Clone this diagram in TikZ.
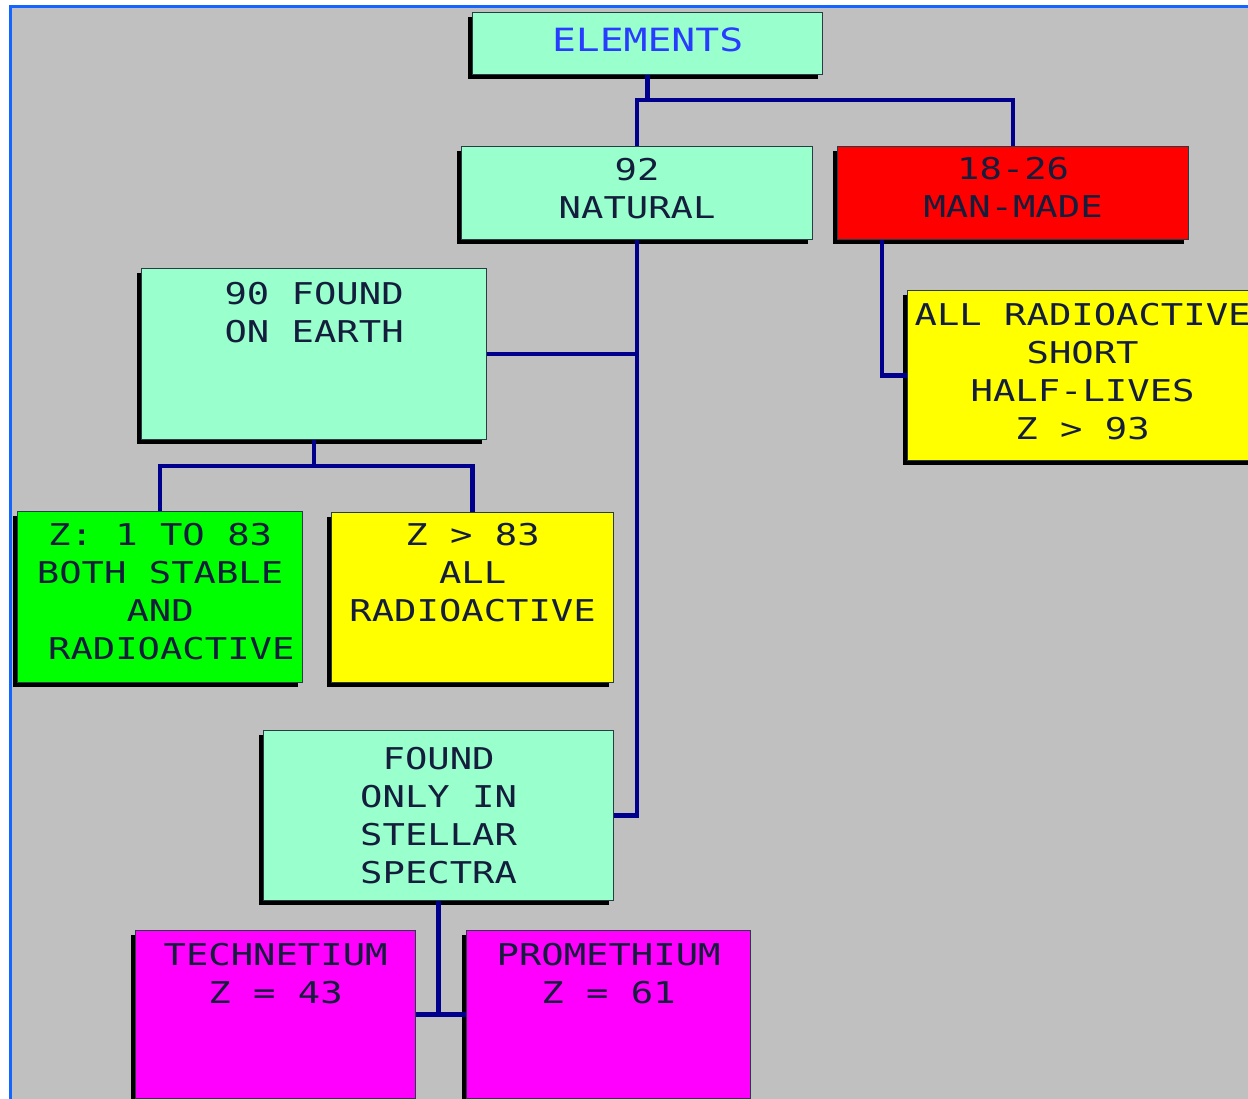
\documentclass[tikz,border=0pt]{standalone}
\usepackage{fontspec}
\usetikzlibrary{shadows}
\newfontfamily\boxfont[FakeStretch=1.24]{DejaVu Sans Mono}
\definecolor{mint}{RGB}{153,255,204}
\definecolor{lime}{RGB}{0,255,0}
\definecolor{lemon}{RGB}{255,255,0}
\definecolor{scarlet}{RGB}{255,0,0}
\definecolor{fuchsia}{RGB}{255,0,255}
\definecolor{panel}{RGB}{192,192,192}
\definecolor{frameblue}{RGB}{20,100,255}
\definecolor{wire}{RGB}{0,0,140}
\definecolor{ink}{RGB}{20,30,60}
\definecolor{titleblue}{RGB}{40,60,255}
\definecolor{edge}{RGB}{40,60,70}

\begin{document}
\begin{tikzpicture}[x=1pt, y=-1pt,
    box/.style={draw=edge, line width=1.2pt, anchor=north west, inner sep=0pt,
      drop shadow={shadow xshift=-5pt, shadow yshift=-4pt, fill=black, opacity=1}},
    boxtext/.style={anchor=north, inner sep=0pt, align=center, text=ink,
      font=\boxfont\fontsize{30}{38}\selectfont},
    link/.style={draw=wire, line width=4.5pt}]
    \useasboundingbox (0,0) rectangle (1248,1099);
    \clip (0,0) rectangle (1248,1099);
    \fill [white] (0,0) rectangle (1248,1099);
    \fill [panel] (10,7) rectangle (1248,1099);
    \draw [frameblue, line width=3pt] (10,1099) -- (10,7) -- (1248,7);

    % boxes
    \node (elem) at (472,12) [box, fill=mint, minimum width=350pt, minimum height=62pt] {};
    \node (natural) at (461,146) [box, fill=mint, minimum width=351pt, minimum height=93pt] {};
    \node (manmade) at (837,146) [box, fill=scarlet, minimum width=351pt, minimum height=93pt] {};
    \node (radio) at (907,290) [box, fill=lemon, minimum width=350pt, minimum height=170pt] {};
    \node (earth) at (141,268) [box, fill=mint, minimum width=345pt, minimum height=171pt] {};
    \node (stable) at (17,511) [box, fill=lime, minimum width=285pt, minimum height=171pt] {};
    \node (heavy) at (331,512) [box, fill=lemon, minimum width=282pt, minimum height=170pt] {};
    \node (stellar) at (263,730) [box, fill=mint, minimum width=350pt, minimum height=170pt] {};
    \node (tech) at (135,930) [box, fill=fuchsia, minimum width=280pt, minimum height=168pt] {};
    \node (prom) at (466,930) [box, fill=fuchsia, minimum width=284pt, minimum height=168pt] {};

    % connectors
    \draw [link] (elem.south) -- ++(0,25) -| (natural.north);
    \draw [link] (elem.south) -- ++(0,25) -| (manmade.north);
    \draw [link] (natural.south) |- (stellar.east);
    \draw [link] (earth.east) -- (earth.east -| natural.south);
    \draw [link] (earth.south) -- ++(0,26) -| (stable.north);
    \draw [link] (earth.south) -- ++(0,26) -| (heavy.north);
    \draw [link] ([xshift=45pt]manmade.south west) |- (radio.west);
    \draw [link] (stellar.south) |- (tech.east);
    \draw [link] (stellar.south) |- (prom.west);

    % texts
    \node (elemtxt) at (elem.north) [boxtext, yshift=-16pt, text=titleblue,
      font=\boxfont\fontsize{32}{38}\selectfont] {ELEMENTS};
    \node (naturaltxt) at (natural.north) [boxtext, yshift=-12pt] {92\\NATURAL};
    \node (manmadetxt) at (manmade.north) [boxtext, yshift=-11pt] {18-26\\MAN-MADE};
    \node (radiotxt) at (radio.north) [boxtext, yshift=-13pt] {ALL RADIOACTIVE\\SHORT\\HALF-LIVES\\Z > 93};
    \node (earthtxt) at (earth.north) [boxtext, yshift=-14pt] {90 FOUND\\ON EARTH};
    \node (stabletxt) at (stable.north) [boxtext, yshift=-12pt] {Z: 1 TO 83\\BOTH STABLE\\AND\\\ RADIOACTIVE};
    \node (heavytxt) at (heavy.north) [boxtext, yshift=-11pt] {Z > 83\\ALL\\RADIOACTIVE};
    \node (stellartxt) at (stellar.north) [boxtext, yshift=-17pt] {FOUND\\ONLY IN\\STELLAR\\SPECTRA};
    \node (techtxt) at (tech.north) [boxtext, yshift=-13pt] {TECHNETIUM\\Z = 43};
    \node (promtxt) at (prom.north) [boxtext, yshift=-13pt] {PROMETHIUM\\Z = 61};
\end{tikzpicture}
\end{document}
